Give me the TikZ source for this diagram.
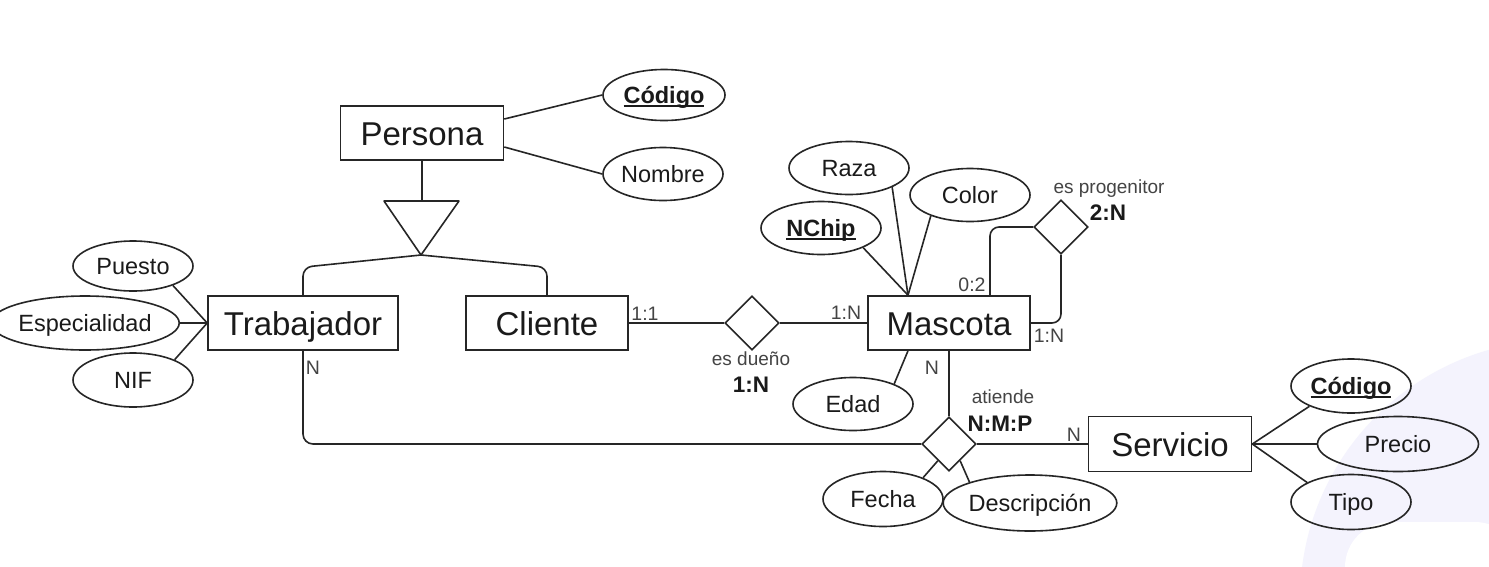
\documentclass[tikz,border=0pt]{standalone}
\usepackage{fontspec}
\setmainfont{Liberation Sans}
\usetikzlibrary{shapes.geometric,calc}
\definecolor{ln}{HTML}{262626}
\definecolor{tx}{HTML}{1A1A1A}
\definecolor{lb}{HTML}{444444}
\definecolor{wm}{HTML}{F4F3FD}
\newcommand\keyul[1]{\setbox0\hbox{#1}\rlap{\rule[-3.5pt]{\wd0}{1.6pt}}\box0}
\begin{document}
\begin{tikzpicture}[x=1pt,y=-1pt, line width=1.6pt, color=ln,
 entity/.style={draw=ln, line width=1.6pt, rectangle, minimum height=54pt, inner sep=0pt, text height=24pt, text depth=0pt, font=\fontsize{33}{36}\selectfont, text=tx},
 attr/.style={draw=ln, line width=1.6pt, ellipse, minimum width=120pt, minimum height=53pt, inner sep=0pt, text height=17pt, text depth=0pt, font=\fontsize{23.5}{26}\selectfont, text=tx},
 rel/.style={draw=ln, line width=1.6pt, diamond, minimum width=54pt, minimum height=54pt, inner sep=0pt},
 lbl/.style={font=\fontsize{19}{21}\selectfont, text=lb, inner sep=0pt, text height=13.7pt, text depth=0pt},
 card/.style={font=\fontsize{19.5}{21}\selectfont, text=lb, inner sep=0pt, text height=14pt, text depth=0pt},
 bcard/.style={font=\bfseries\fontsize{22.5}{24}\selectfont, text=tx, inner sep=0pt, text height=16.2pt, text depth=0pt},
 conn/.style={draw=ln, line width=1.6pt}
]
\useasboundingbox (0,0) rectangle (1489,566);
\fill[white] (0,0) rectangle (1489,566);
\begin{scope}
\clip (0,0) rectangle (1489,566);
\fill[wm] (1560,600) circle (260pt);
\fill[white, rounded corners=45pt] (1345,522) rectangle (1520,640);
\end{scope}

% entities
\node[entity, minimum width=163pt] (Persona) at (422,133) {Persona};
\node[entity, minimum width=190pt] (Trab) at (303,323) {Trabajador};
\node[entity, minimum width=162pt] (Cliente) at (547,323) {Cliente};
\node[entity, minimum width=162pt] (Mascota) at (949,323) {Mascota};
\node[entity, minimum width=163pt, minimum height=55pt] (Serv) at (1170,444) {Servicio};

% attributes
\node[attr, minimum width=122pt, minimum height=51pt] (Cod1) at (664,95) {\bfseries\keyul{Código}};
\node[attr] (Nom) at (663,174) {Nombre};
\node[attr, minimum height=50pt] (Puesto) at (133,266) {Puesto};
\node[attr, minimum width=161pt, minimum height=54pt] (Esp) at (85,323) {Especialidad};
\node[attr, minimum height=54pt] (NIF) at (133,380) {NIF};
\node[attr] (Raza) at (849,168) {Raza};
\node[attr] (Color) at (970,195) {Color};
\node[attr] (NChip) at (821,228) {\bfseries\keyul{NChip}};
\node[attr] (Edad) at (853,404) {Edad};
\node[attr, minimum height=54pt] (Cod2) at (1351,386) {\bfseries\keyul{Código}};
\node[attr, minimum width=161pt, minimum height=55pt] (Precio) at (1398,444) {Precio};
\node[attr, minimum height=55pt] (Tipo) at (1351,502) {Tipo};
\node[attr, minimum height=55pt] (Fecha) at (883,499) {Fecha};
\node[attr, minimum width=152pt, minimum height=56pt] (Desc) at (1030,503) {Descripción};

% relationships
\node[rel] (esd) at (752,323) {};
\node[rel] (at) at (949,444) {};
\node[rel] (ep) at (1061,227) {};

% ISA triangle
\coordinate (triTL) at (384,201);
\coordinate (triTR) at (459,201);
\coordinate (apex) at (421,255);
\draw[conn, line join=round] (triTL) -- (triTR) -- (apex) -- cycle;
\draw[conn] (Persona.south) -- (Persona.south |- triTL);
\draw[conn, rounded corners=9pt] (apex) -- ([yshift=28pt]Trab.north) -- (Trab.north);
\draw[conn, rounded corners=9pt] (apex) -- ([yshift=28pt]Cliente.north) -- (Cliente.north);

% Persona attributes
\draw[conn] ([yshift=14pt]Persona.east) -- (Cod1.west);
\draw[conn] ([yshift=-14pt]Persona.east) -- (Nom.west);

% Trabajador attributes
\draw[conn] (Trab.west) -- (Puesto.-26);
\draw[conn] (Trab.west) -- (Esp.east);
\draw[conn] (Trab.west) -- (NIF.26);

% es dueño
\draw[conn] (Cliente.east) -- (esd.west);
\draw[conn] (esd.east) -- (Mascota.west);

% Mascota attributes
\coordinate (mh) at ([xshift=-41pt]Mascota.north);
\draw[conn] (mh) -- (NChip.-25);
\draw[conn] (mh) -- (Raza.-24);
\draw[conn] (mh) -- (Color.208);
\draw[conn] ([xshift=-41pt]Mascota.south) -- (Edad.26);

% es progenitor
\draw[conn, rounded corners=9pt] ([xshift=41pt]Mascota.north) -- ([xshift=41pt]Mascota.north |- ep.west) -- (ep.west);
\draw[conn, rounded corners=9pt] (ep.south) -- (ep.south |- Mascota.east) -- (Mascota.east);

% atiende
\draw[conn] (Mascota.south) -- (at.north);
\draw[conn, rounded corners=10pt] (Trab.south) -- (Trab.south |- at.west) -- (at.west);
\draw[conn] (at.east) -- (Serv.west);
\draw[conn] ($(at.south)!0.4!(at.west)$) -- (Fecha.28);
\draw[conn] ($(at.south)!0.4!(at.east)$) -- (Desc.161);

% Servicio attributes
\draw[conn] (Serv.east) -- (Cod2.206);
\draw[conn] (Serv.east) -- (Precio.west);
\draw[conn] (Serv.east) -- (Tipo.156);

% labels
\node[card] (c11) at (645,313) {1:1};
\node[card] (c1n) at (846,312) {1:N};
\node[lbl] (lesd) at (751,359) {es dueño};
\node[bcard] (besd) at (751,384) {1:N};
\node[card] (c02) at (972,284) {0:2};
\node[card] (c1n2) at (1049,335) {1:N};
\node[lbl] (lep) at (1109,187) {es progenitor};
\node[bcard] (bep) at (1108,212) {2:N};
\node[card] (cNt) at (313,367) {N};
\node[card] (cNm) at (932,367) {N};
\node[card] (cNs) at (1074,434) {N};
\node[lbl] (lat) at (1003,397) {atiende};
\node[bcard] (bat) at (1000,423) {N:M:P};
\end{tikzpicture}
\end{document}
